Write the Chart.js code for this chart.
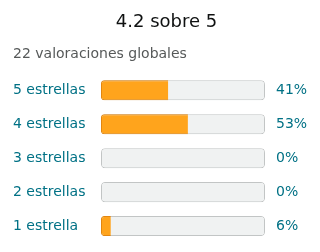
<!DOCTYPE html>
<html>
<head>
<meta charset="utf-8">
<script src="https://cdn.jsdelivr.net/npm/chart.js@4"></script>
<style>
  html, body { margin: 0; padding: 0; background: #fff; }
  #wrap { width: 320px; height: 252px; }
</style>
</head>
<body>
<div id="wrap"><canvas id="ratings"></canvas></div>
<script>
// Rating summary data
const titleText = "4.2 sobre 5";
const subtitleText = "22 valoraciones globales";
const categories = ["5 estrellas", "4 estrellas", "3 estrellas", "2 estrellas", "1 estrella"];
const percentages = [41, 53, 0, 0, 6];
const pctLabels = percentages.map(p => p + "%");
const fullScale = categories.map(() => 100);

const linkColor = "#007185";

Chart.defaults.font.family = "'DejaVu Sans', sans-serif";
Chart.defaults.font.size = 14;

// fixed axis width, no extra label padding above/below the rows
const fixAxis = w => s => {
  s.width = w;
  s.paddingTop = 0;
  s.paddingBottom = 0;
};

new Chart(document.getElementById("ratings"), {
  type: "bar",
  data: {
    labels: categories,
    datasets: [
      {
        data: percentages,
        backgroundColor: "#ffa41c",
        borderColor: "#e3860f",
        borderWidth: ctx => (ctx.raw > 0 ? 1 : 0),
        borderSkipped: "end",
        borderRadius: 3,
        grouped: false,
        barPercentage: 1,
        categoryPercentage: 0.59
      },
      {
        data: fullScale,
        backgroundColor: "#f0f2f2",
        borderColor: "#c2c5c5",
        borderWidth: 1,
        borderSkipped: false,
        borderRadius: 4,
        grouped: false,
        barPercentage: 1,
        categoryPercentage: 0.59
      }
    ]
  },
  options: {
    indexAxis: "y",
    responsive: true,
    maintainAspectRatio: false,
    animation: false,
    layout: { padding: { top: 0, left: 13, right: 0, bottom: 9 } },
    plugins: {
      legend: { display: false },
      tooltip: { enabled: false },
      title: {
        display: true,
        text: titleText,
        color: "#0f1111",
        font: { size: 18, weight: "normal" },
        padding: { top: 12, bottom: 12 }
      },
      subtitle: {
        display: true,
        text: subtitleText,
        align: "start",
        color: "#565959",
        font: { size: 14 },
        padding: { top: 0, bottom: 11 }
      }
    },
    scales: {
      x: { display: false, min: 0, max: 100 },
      y: {
        grid: { display: false, drawTicks: false },
        border: { display: false },
        ticks: { color: linkColor, crossAlign: "far", padding: 0 },
        afterFit: fixAxis(88)
      },
      y2: {
        type: "category",
        labels: pctLabels,
        position: "right",
        offset: true,
        grid: { display: false, drawTicks: false },
        border: { display: false },
        ticks: { color: linkColor, padding: 11 },
        afterFit: fixAxis(55)
      }
    }
  }
});
</script>
</body>
</html>
